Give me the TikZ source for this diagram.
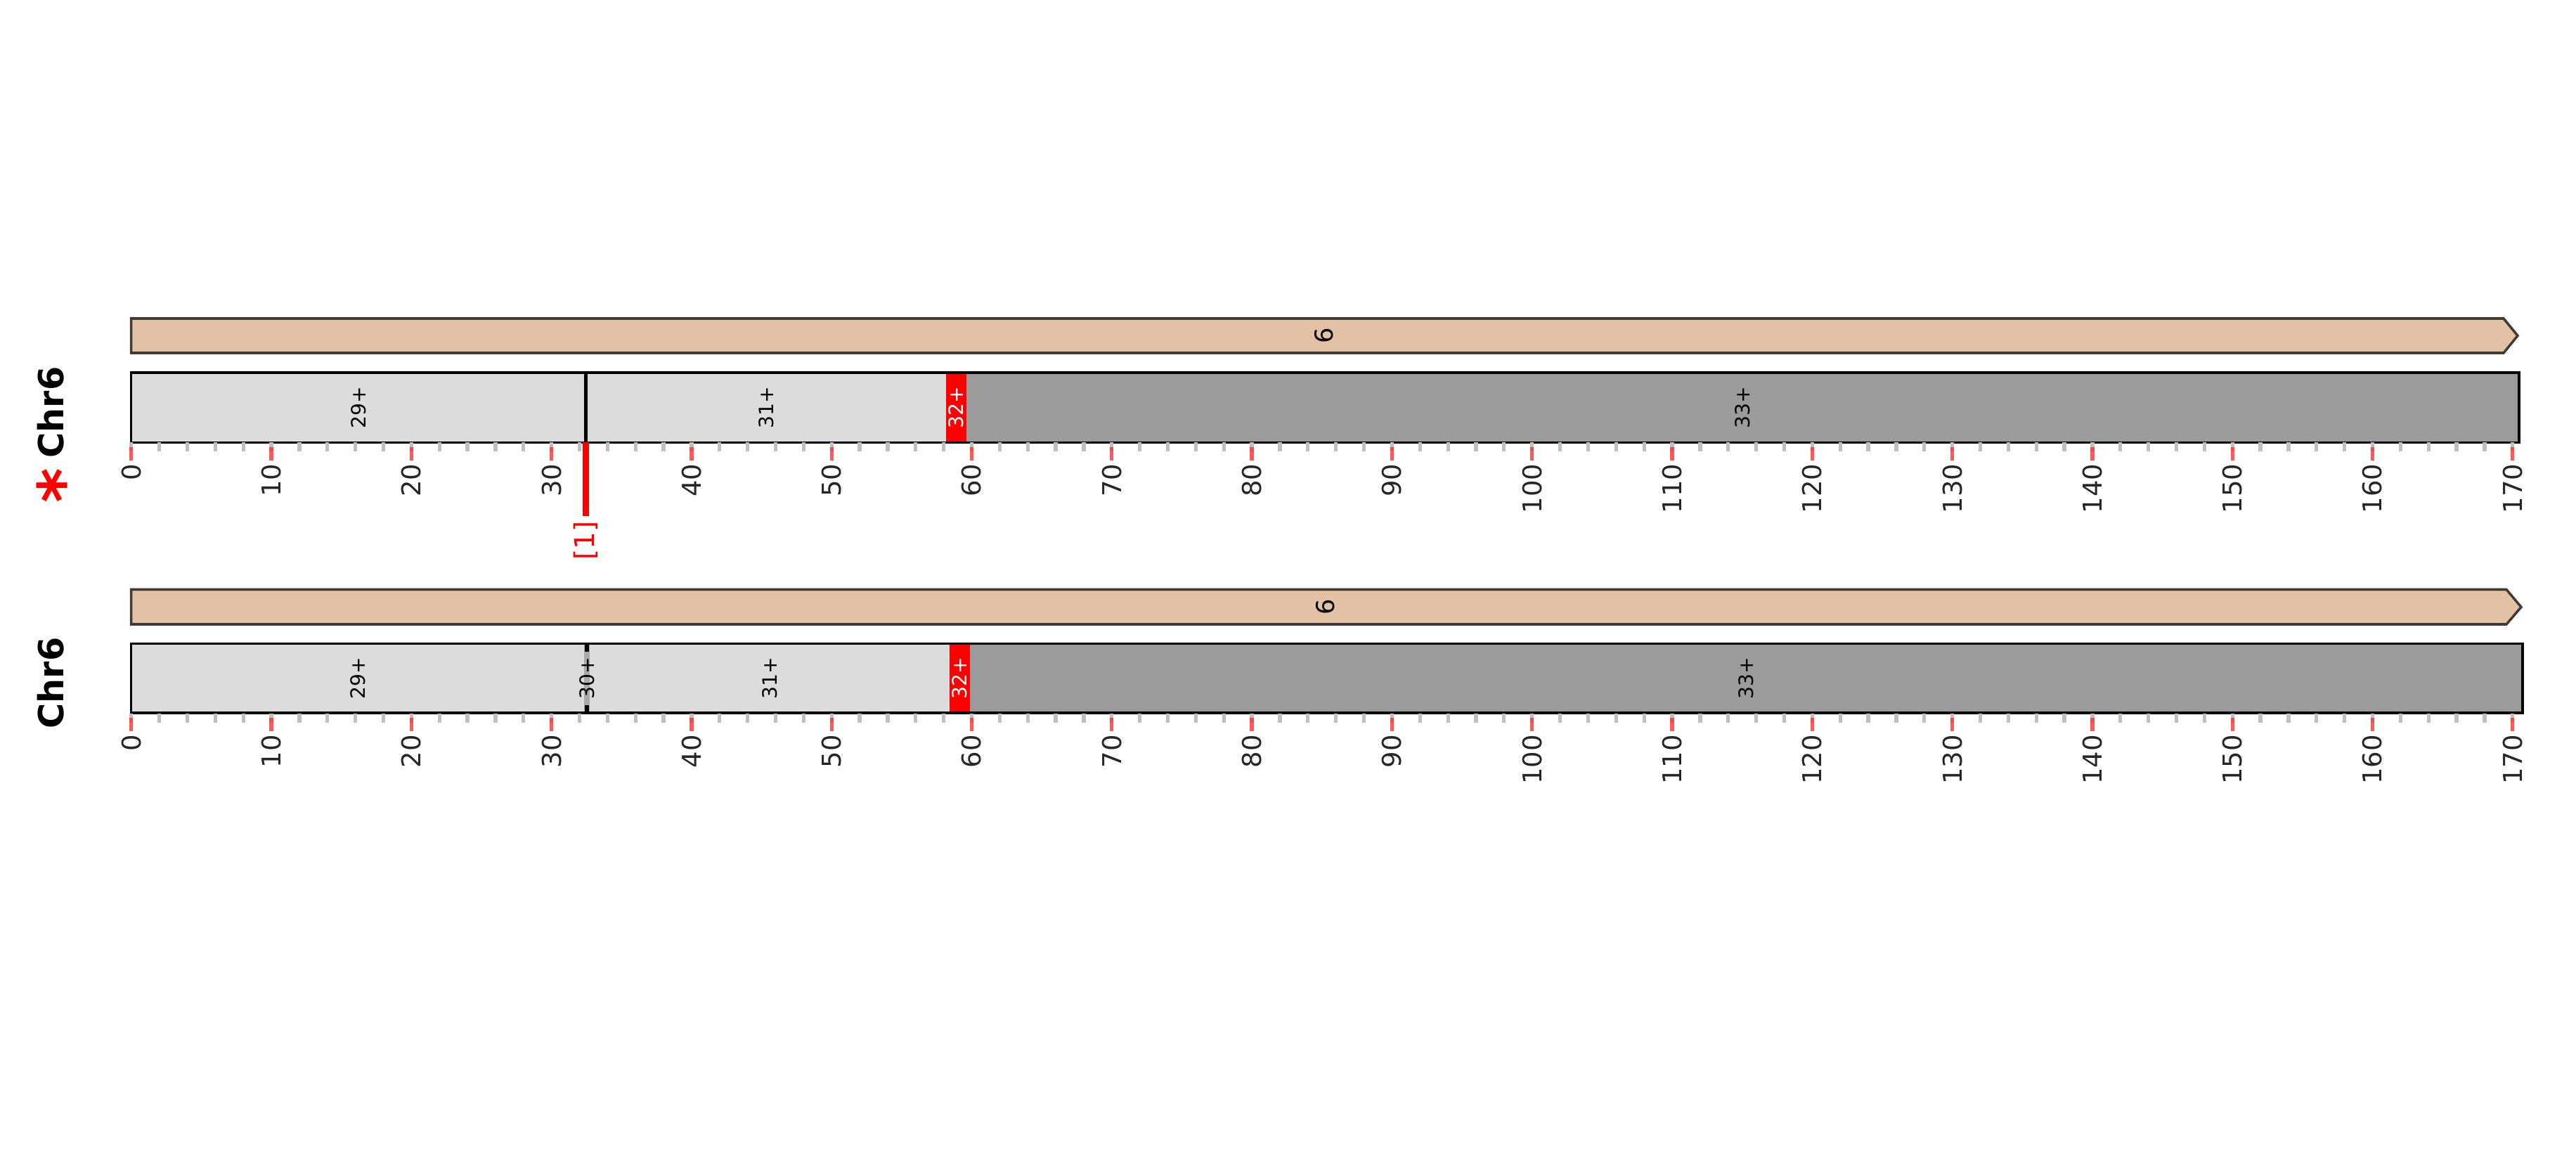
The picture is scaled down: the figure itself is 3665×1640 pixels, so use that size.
\documentclass[tikz,border=0pt]{standalone}
\usepackage{fontspec}
\setmainfont{DejaVu Sans}
\definecolor{genefill}{HTML}{E2C1A5}
\definecolor{geneedge}{HTML}{403B37}
\definecolor{segl}{HTML}{DCDCDC}
\definecolor{segd}{HTML}{9B9B9B}
\definecolor{seg30}{HTML}{A9A9A9}
\definecolor{tickgrey}{HTML}{C0C0C0}
\definecolor{tickred}{HTML}{FF3030}
\definecolor{lbl}{HTML}{262626}
\begin{document}
\begin{tikzpicture}[x=0.01cm,y=-0.01cm,
  gene/.style={fill=genefill, draw=geneedge, line width=1pt, line join=miter},
  chrbox/.style={draw=black, line width=1pt},
  seglabel/.style={rotate=90, inner sep=0pt, font=\fontsize{8}{9}\selectfont},
  genelabel/.style={rotate=90, inner sep=0pt, font=\fontsize{10}{11}\selectfont},
  ticklabel/.style={rotate=90, anchor=east, inner sep=0pt, text=lbl, font=\fontsize{10.5}{12}\selectfont},
  chrlabel/.style={rotate=90, inner sep=0pt, font=\bfseries\fontsize{14}{16}\selectfont},
  minortick/.style={draw=tickgrey, line width=1.5pt},
  majortick/.style={draw=tickred, draw opacity=0.8, line width=1.5pt},
  marker/.style={draw=red, line width=2.3pt},
  markerlabel/.style={rotate=90, inner sep=0pt, text=red, font=\fontsize{11}{12}\selectfont}
]
\useasboundingbox (0,0) rectangle (3665,1640);
\fill[white] (0,0) rectangle (3665,1640);

% ---------- Track 1 ----------
\draw[gene] (186.7,453) -- (3562,453) -- (3582,477.5) -- (3562,502) -- (186.7,502) -- cycle;
\node[genelabel] (g1) at (1884,477.5) {6};

\fill[segl] (186.7,530) rectangle (1346,629.5);
\fill[red] (1346,530) rectangle (1375,629.5);
\fill[segd] (1375,530) rectangle (3584,629.5);
\draw[chrbox] (186.7,530) rectangle (3584,629.5);
\coordinate (m1top) at (833.5,530);
\coordinate (m1mid) at (833.5,629.5);
\coordinate (m1end) at (833.5,734);
\draw[black, line width=1.15pt] (m1top) -- (m1mid);
\node[seglabel] (s29a) at (510,580) {29+};
\node[seglabel] (s31a) at (1090,580) {31+};
\node[seglabel, text=white] (s32a) at (1360.5,580) {32+};
\node[seglabel] (s33a) at (2479.5,580) {33+};

\node[chrlabel] (chr1) at (72,586.5) {Chr6};
\node[rotate=90, anchor=base, inner sep=0pt, text=red, font=\bfseries\fontsize{27}{30}\selectfont] (ast) at (122,691) {*};

% ---------- Track 2 ----------
\draw[gene] (186.7,838.5) -- (3566,838.5) -- (3587,863.5) -- (3566,888) -- (186.7,888) -- cycle;
\node[genelabel] (g2) at (1886,863.5) {6};

\fill[segl] (186.7,915.5) rectangle (1351,1014);
\fill[red] (1351,915.5) rectangle (1380,1014);
\fill[segd] (1380,915.5) rectangle (3589,1014);
\fill[seg30] (831,915.5) rectangle (839,1014);
\fill[black] (832,915.5) rectangle (838,927);
\fill[black] (832,1003) rectangle (838,1014);
\draw[chrbox] (186.7,915.5) rectangle (3589,1014);
\node[seglabel] (s29b) at (509,965) {29+};
\node[seglabel] (s30b) at (835,965) {30+};
\node[seglabel] (s31b) at (1095,965) {31+};
\node[seglabel, text=white] (s32b) at (1365.5,965) {32+};
\node[seglabel] (s33b) at (2484.5,965) {33+};

\node[chrlabel] (chr2) at (72,971.5) {Chr6};

% ---------- Rulers ----------
\foreach \dy [count=\k] in {0,385.5} {
  \foreach \v in {0,2,...,170} {
    \draw[minortick] ({186.7+19.93*\v},{629.5+\dy}) -- ++(0,13);
  }
  \foreach \v in {0,10,...,170} {
    \draw[majortick] ({186.7+19.93*\v},{636+\dy}) -- ++(0,19);
    \node[ticklabel] (t\k-\v) at ({186.7+19.93*\v},{659+\dy}) {\v};
  }
}

% ---------- Marker [1] ----------
\draw[marker] (m1mid) -- (m1end);
\node[markerlabel] (mk1) at (833.5,769) {[1]};
\end{tikzpicture}
\end{document}
